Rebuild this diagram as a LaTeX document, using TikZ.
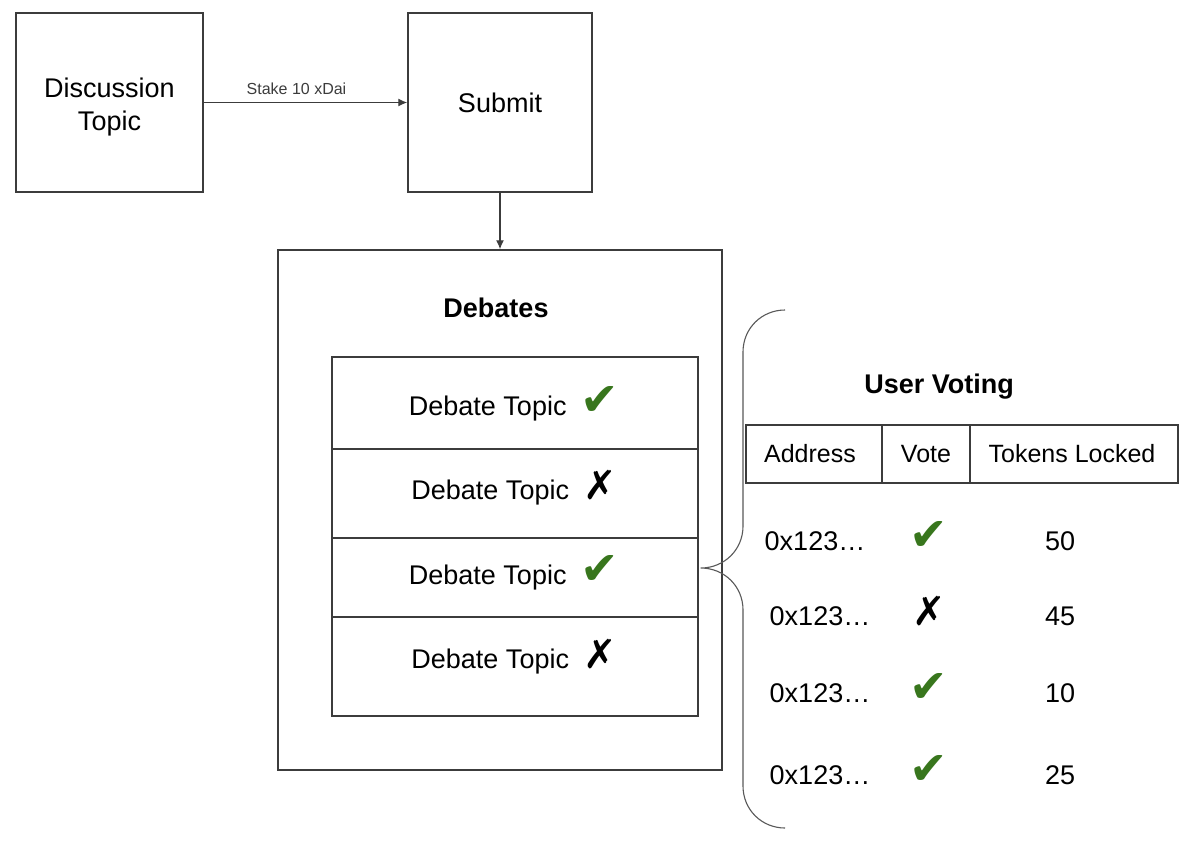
\documentclass[tikz,border=0pt]{standalone}
\usepackage{fontspec}
\setmainfont{Liberation Sans}
\newfontfamily\marksfont{DejaVu Sans}
\usetikzlibrary{positioning, arrows.meta}
\definecolor{votegreen}{RGB}{56,118,29}
\definecolor{edge}{RGB}{60,60,60}
\newcommand{\markyes}{{\marksfont\fontsize{46}{46}\selectfont\textcolor{votegreen}{✔}}}
\newcommand{\markno}{{\marksfont\fontsize{40}{40}\selectfont ✗}}

\begin{document}
\begin{tikzpicture}[x=1pt, y=-1pt,
  box/.style={draw=edge, line width=1.5pt, inner sep=0pt, align=center},
  big/.style={font=\fontsize{27}{33}\selectfont},
  cell/.style={draw=edge, line width=1.3pt, outer sep=0pt, minimum height=58pt, inner sep=0pt, font=\fontsize{25}{30}\selectfont}]
\fill[white] (0,0) rectangle (1198,846);
\useasboundingbox (0,0) rectangle (1198,846);

\node[box, big, minimum width=187pt, minimum height=179pt, text height=62pt] (topic) at (109.5,102.5) {Discussion\\Topic};
\node[box, big, minimum width=184pt, minimum height=179pt] (submit) at (500,102.5) {Submit};
\node[box, minimum width=444pt, minimum height=520pt] (debates) at (500,510) {};
\draw [-{Latex[length=9pt, width=8pt]}, edge, line width=1.3pt] (topic) -- (submit) node[midway, above=4pt, xshift=-9pt, font=\fontsize{16}{16}\selectfont]{Stake 10 xDai};
\draw [-{Latex[length=9pt, width=8pt]}, edge, line width=1.3pt] (submit) -- (debates);

\node[font=\bfseries\fontsize{27}{33}\selectfont] (debtitle) at (496,308) {Debates};
\node[box, minimum width=366pt, minimum height=359pt] (list) at (515,536.5) {};
\foreach \y in {449, 538, 617}
  \draw [edge, line width=1.3pt] (list.west |- 0,\y) -- (list.east |- 0,\y);
\foreach \y/\m [count=\i] in {405/\markyes, 489/\markno, 574/\markyes, 658/\markno}
  \node[big, anchor=base] (debate\i) at (514,\y+10) {Debate Topic\hspace{14pt}\m};

% brace towards the voting table
\coordinate (tip) at ([xshift=2pt, yshift=-31.5pt]list.east);
\draw [edge!85, line width=1.1pt] (785,310) .. controls (762,310) and (743,328) .. (743,352) -- (743,526) .. controls (743,550) and (724,568) .. (tip) .. controls (724,568) and (743,586) .. (743,610) -- (743,786) .. controls (743,810) and (762,828) .. (785,828);

\node[font=\bfseries\fontsize{27}{33}\selectfont] (votetitle) at (939,387) {User Voting};
\node[cell, minimum width=136pt] (haddr) at (814,454) {\hspace{-8pt}Address};
\node[cell, minimum width=88pt, right=0pt of haddr] (hvote) {Vote};
\node[cell, minimum width=208pt, right=0pt of hvote] (htok) {\hspace{-4pt}Tokens Locked};
\foreach \y/\m/\n/\a [count=\i] in {540/\markyes/50/815, 615/\markno/45/820, 692/\markyes/10/820, 774/\markyes/25/820}{
  \node[big, anchor=base] (addr\i) at (\a,\y+10) {0x123…};
  \node[anchor=base] (vote\i) at (929,\y+10) {\m};
  \node[big, anchor=base] (tok\i) at (1060,\y+10) {\n};
}
\end{tikzpicture}
\end{document}
